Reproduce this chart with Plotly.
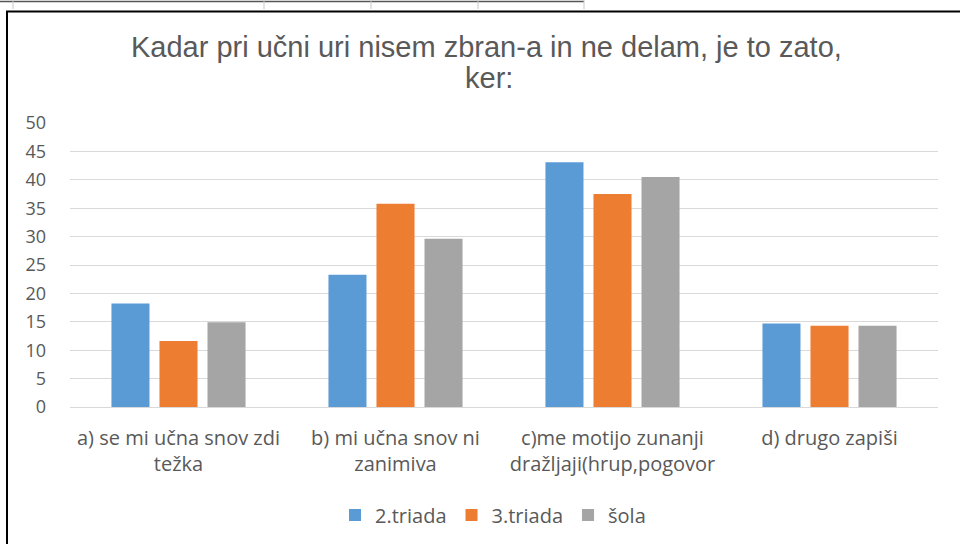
import plotly.graph_objects as go

categories = [
    "a) se mi učna snov zdi težka",
    "b) mi učna snov ni zanimiva",
    "c)me motijo zunanji dražljaji(hrup,pogovor",
    "d) drugo zapiši",
]
tick_labels = [
    "a) se mi učna snov zdi<br>težka",
    "b) mi učna snov ni<br>zanimiva",
    "c)me motijo zunanji<br>dražljaji(hrup,pogovor",
    "d) drugo zapiši",
]
title_lines = ["Kadar pri učni uri nisem zbran-a in ne delam, je to zato,", "ker:"]
series_names = ["2.triada", "3.triada", "šola"]
triada2 = [18.2, 23.3, 43.1, 14.7]
triada3 = [11.6, 35.8, 37.5, 14.3]
sola = [14.9, 29.6, 40.5, 14.3]
colors = ["#5b9bd5", "#ed7d31", "#a5a5a5"]

W, H = 960, 544
L, R, T, B = 70, 22, 123, 137
pw, ph = W - L - R, H - T - B

def px(x):
    return (x - L) / pw

def py(y):
    return (H - B - y) / ph

fig = go.Figure()
for name, vals, col in zip(series_names, [triada2, triada3, sola], colors):
    fig.add_trace(go.Bar(x=categories, y=vals, name=name, marker_color=col,
                         marker_line_width=0))

font_axis = "Open Sans, Noto Sans, sans-serif"
gray = "#595959"

shapes = []
# chart border (left + top)
shapes.append(dict(type="line", xref="paper", yref="paper", x0=px(7), x1=px(7),
                   y0=py(11), y1=py(H + 5), line=dict(color="#000", width=2)))
shapes.append(dict(type="line", xref="paper", yref="paper", x0=px(6), x1=px(W + 5),
                   y0=py(11.5), y1=py(11.5), line=dict(color="#000", width=2)))
# spreadsheet strip above chart
shapes.append(dict(type="line", xref="paper", yref="paper", x0=px(0), x1=px(584),
                   y0=py(1.5), y1=py(1.5), line=dict(color="#555", width=1.5)))
for xv in [13, 264, 371, 478, 584]:
    shapes.append(dict(type="line", xref="paper", yref="paper", x0=px(xv), x1=px(xv),
                       y0=py(0), y1=py(9), line=dict(color="#c8c8c8", width=1)))

annotations = []
for txt, xc, yc in zip(title_lines, [486, 489], [47, 78]):
    annotations.append(dict(text=txt, xref="paper", yref="paper", x=px(xc), y=py(yc),
                            xanchor="center", yanchor="middle", showarrow=False,
                            font=dict(family="Liberation Sans, Arial, sans-serif",
                                      size=29, color=gray)))

fig.update_layout(
    width=W, height=H,
    margin=dict(l=L, r=R, t=T, b=B, autoexpand=False),
    paper_bgcolor="white", plot_bgcolor="white",
    barmode="group", bargap=0.336, bargroupgap=0.208,
    xaxis=dict(tickvals=categories, ticktext=tick_labels, showgrid=False,
               showline=False, ticks="", ticklabelstandoff=17,
               tickfont=dict(family=font_axis, size=20, color=gray)),
    yaxis=dict(range=[0, 50], dtick=5, showgrid=True, gridcolor="#d9d9d9",
               gridwidth=1, zeroline=True, zerolinecolor="#d9d9d9", zerolinewidth=1,
               showline=False, ticks="", ticklabelstandoff=23,
               tickfont=dict(family=font_axis, size=18, color=gray)),
    legend=dict(orientation="h", x=px(493), xanchor="center", y=py(515), yanchor="middle",
                font=dict(family=font_axis, size=20, color=gray),
                itemwidth=30, traceorder="normal"),
    shapes=shapes,
    annotations=annotations,
)

fig.write_html("out.html", post_script="document.body.style.margin='0';",
               config={"displayModeBar": False})
